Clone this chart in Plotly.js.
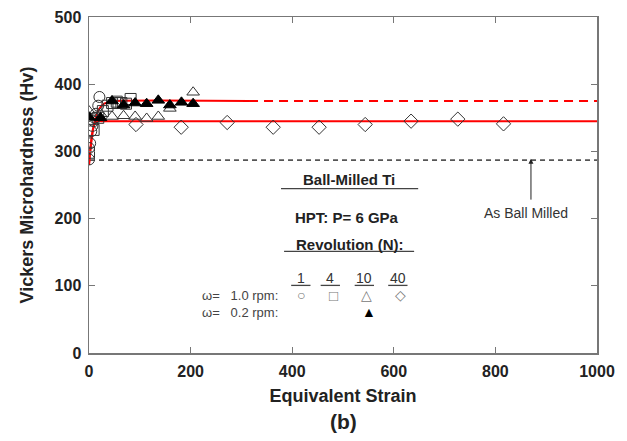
<!DOCTYPE html>
<html>
<head>
<meta charset="utf-8">
<script src="https://cdn.plot.ly/plotly-3.0.1.min.js"></script>
<style>body{margin:0;padding:0;background:#fff}#chart{width:627px;height:441px}</style>
</head>
<body>
<div id="chart"></div>
<script>
// N = 1, omega = 1.0 rpm (open circles)
const circleStrain = [0, 0, 2.3, 4.5, 6.8, 9.1, 11.4, 13.6, 18.2, 20.5];
const circleHv     = [288, 305, 312, 330, 338, 345, 350, 356, 368, 381];
// N = 4, omega = 1.0 rpm (open squares)
const squareStrain = [0, 9.1, 18.2, 27.3, 36.4, 45.5, 54.6, 63.7, 72.8, 81.9];
const squareHv     = [298, 332, 350, 360, 368, 372, 374, 372, 371, 378];
// N = 10, omega = 1.0 rpm (open triangles)
const triStrain = [0, 22.7, 45.4, 68.1, 90.8, 113.5, 136.4, 159.2, 205];
const triHv     = [360, 356, 352, 353, 352, 349, 352, 364, 388];
// N = 10, omega = 0.2 rpm (filled triangles)
const triFillStrain = [0, 22.7, 45.4, 68.1, 90.8, 113.5, 136.4, 159.2, 182, 205];
const triFillHv     = [351, 350, 375, 369, 372, 371, 376, 369, 373, 371];
// N = 40, omega = 1.0 rpm (open diamonds)
const diaStrain = [92.5, 181.5, 272, 362.6, 453, 543.7, 634, 726, 816];
const diaHv     = [340, 336, 343, 336, 336, 340, 345, 348, 341];
// fitted curves
const fitLowX  = [0, 3, 6, 9, 12, 16, 25, 1000];
const fitLowY  = [280, 306, 326, 337, 342, 345, 345, 345];
const fitHighX = [0, 4, 8, 12, 16, 20, 25, 30, 40, 50, 315];
const fitHighY = [280, 310, 332, 347, 357, 363, 368, 371, 374, 375, 375];
const fitHighDashX = [315, 1000];
const fitHighDashY = [375, 375];
const ballMilledX = [2, 1000];
const ballMilledY = [287, 287];
const xTicks = [0, 200, 400, 600, 800, 1000];
const yTicks = [0, 100, 200, 300, 400, 500];

const mkOpen = (sym) => ({symbol: sym, size: 11, color: '#333', line: {color: '#333', width: 1}});

const traces = [
  {x: ballMilledX, y: ballMilledY, mode: 'lines', line: {color: '#555', width: 1.6, dash: '5px,4px'}},
  {x: fitLowX, y: fitLowY, mode: 'lines', line: {color: '#ff0000', width: 2, shape: 'spline'}},
  {x: fitHighX, y: fitHighY, mode: 'lines', line: {color: '#ff0000', width: 2, shape: 'spline'}},
  {x: fitHighDashX, y: fitHighDashY, mode: 'lines', line: {color: '#ff0000', width: 2, dash: '9px,6px'}},
  {x: circleStrain, y: circleHv, mode: 'markers', marker: mkOpen('circle-open')},
  {x: squareStrain, y: squareHv, mode: 'markers', marker: mkOpen('square-open')},
  {x: triStrain, y: triHv, mode: 'markers', marker: mkOpen('triangle-up-open')},
  {x: diaStrain, y: diaHv, mode: 'markers', marker: mkOpen('diamond-open')},
  {x: triFillStrain, y: triFillHv, mode: 'markers', marker: {symbol: 'triangle-up', size: 11, color: '#000', line: {color: '#000', width: 1}}}
];

const F = 'Liberation Sans, Arial, sans-serif';
const ann = (x, y, text, size, color, xanchor) => ({x, y, xref: 'x', yref: 'y', text, showarrow: false,
  font: {family: F, size, color: color || '#222'}, xanchor: xanchor || 'center', yanchor: 'middle'});

const annotations = [
  ann(512, 258, '<b>Ball-Milled Ti</b>', 15, '#222'),
  ann(507, 202, '<b>HPT: P= 6 GPa</b>', 15, '#222'),
  ann(512, 162, '<b>Revolution (N):</b>', 15, '#222'),
  ann(417, 112, '1', 14, '#333'),
  ann(475, 112, '4', 14, '#333'),
  ann(542, 112, '10', 14, '#333'),
  ann(608, 112, '40', 14, '#333'),
  ann(376, 86, 'ω=   1.0 rpm:', 13, '#444', 'right'),
  ann(376, 61, 'ω=   0.2 rpm:', 13, '#444', 'right'),
  ann(417, 86, '○', 14, '#777'),
  ann(482, 86, '□', 15, '#777'),
  ann(547, 87, '△', 14, '#777'),
  ann(614, 86, '◇', 14, '#777'),
  ann(551, 61, '▲', 14, '#000'),
  ann(860, 208, 'As Ball Milled', 14, '#333'),
  {x: 870, y: 289, ax: 870, ay: 226, xref: 'x', yref: 'y', axref: 'x', ayref: 'y', text: '', showarrow: true,
   arrowhead: 2, arrowsize: 1, arrowwidth: 1, arrowcolor: '#222'},
  {x: 0.5, y: -0.205, xref: 'paper', yref: 'paper', text: '<b>(b)</b>', showarrow: false,
   font: {family: F, size: 21, color: '#222'}, xanchor: 'center', yanchor: 'middle'}
];

const uline = (x0, x1, y) => ({type: 'line', xref: 'x', yref: 'y', x0, x1, y0: y, y1: y, line: {color: '#444', width: 1.3}});
const shapes = [
  uline(378, 648, 244.5),
  uline(384, 640, 151.3),
  uline(398, 436, 100.6),
  uline(456, 494, 100.6),
  uline(523, 561, 100.6),
  uline(589, 627, 100.6)
];

const axisCommon = {
  showgrid: false, zeroline: false, showline: true, linecolor: '#777', linewidth: 1.5,
  mirror: 'ticks', ticks: 'inside', ticklen: 6, tickwidth: 1.2, tickcolor: '#777',
  ticklabelstandoff: 3,
  tickfont: {family: F, size: 16, color: '#222', weight: 'bold'}
};

const layout = {
  width: 627, height: 441,
  margin: {l: 89, r: 30, t: 17, b: 88},
  paper_bgcolor: '#fff', plot_bgcolor: '#fff',
  showlegend: false,
  xaxis: Object.assign({}, axisCommon, {range: [0, 1000], tickvals: xTicks, ticktext: xTicks.map(String),
    title: {text: '<b>Equivalent Strain</b>', font: {family: F, size: 18, color: '#222'}, standoff: 10}}),
  yaxis: Object.assign({}, axisCommon, {range: [0, 500], tickvals: yTicks, ticktext: yTicks.map(String),
    title: {text: '<b>Vickers Microhardness (Hv)</b>', font: {family: F, size: 18, color: '#222'}, standoff: 16}}),
  annotations, shapes
};

Plotly.newPlot('chart', traces, layout, {displayModeBar: false, staticPlot: true});
</script>
</body>
</html>
